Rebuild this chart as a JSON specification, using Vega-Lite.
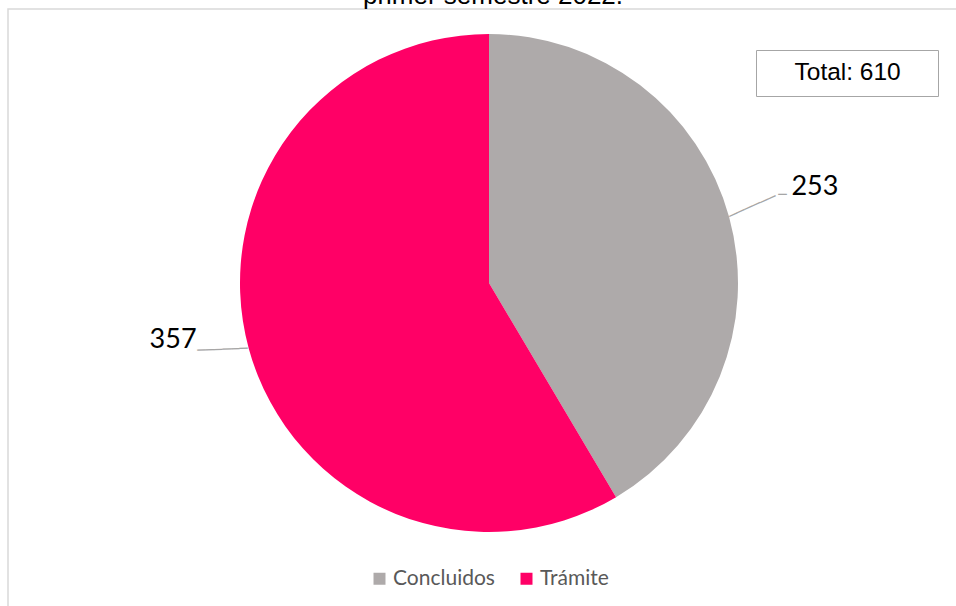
{
  "$schema": "https://vega.github.io/schema/vega-lite/v6.json",
  "autosize": {"type": "none"},
  "width": 948,
  "height": 597,
  "padding": {"left": 8, "top": 9, "right": 0, "bottom": 0},
  "background": "white",
  "view": {"stroke": "#D9D9D9", "strokeWidth": 1.5, "fill": "white", "strokeDash": [948, 1545, 597]},
  "title": {
    "text": "primer semestre 2022.",
    "font": "Liberation Sans",
    "fontSize": 26,
    "fontWeight": "normal",
    "color": "#000000",
    "anchor": "middle",
    "baseline": "top",
    "offset": 0,
    "dx": 11,
    "frame": "group"
  },
  "data": {
    "values": [
      {"category": "Concluidos", "value": 253},
      {"category": "Trámite", "value": 357}
    ]
  },
  "layer": [
    {
      "mark": {"type": "arc", "outerRadius": 249, "xOffset": 7, "yOffset": -24.5},
      "encoding": {
        "theta": {"field": "value", "type": "quantitative", "stack": true},
        "color": {
          "field": "category",
          "type": "nominal",
          "scale": {"domain": ["Concluidos", "Trámite"], "range": ["#AEAAAA", "#FF0066"]},
          "legend": {
            "title": null,
            "orient": "none",
            "legendX": 361,
            "legendY": 559,
            "direction": "horizontal",
            "padding": 0,
            "symbolType": "square",
            "symbolSize": 144,
            "symbolStrokeWidth": 0,
            "labelFont": "Lato",
            "labelFontSize": 21,
            "labelColor": "#595959",
            "labelOffset": 3,
            "columnPadding": 21
          }
        }
      }
    },
    {
      "mark": {"type": "text", "align": "center", "baseline": "middle", "angle": -24, "dx": -1, "dy": -4, "font": "DejaVu Sans", "fontSize": 14, "color": "#A6A6A6", "xOffset": 7, "yOffset": -24.5},
      "encoding": {
        "theta": {"field": "value", "type": "quantitative", "stack": true},
        "detail": {"field": "category", "type": "nominal"},
        "radius": {"value": 276},
        "text": {"value": "──────"},
        "opacity": {"condition": {"test": "datum.category === 'Concluidos'", "value": 1}, "value": 0}
      }
    },
    {
      "mark": {"type": "text", "align": "center", "baseline": "middle", "angle": 0, "dx": 7, "dy": -9, "font": "DejaVu Sans", "fontSize": 14, "color": "#A6A6A6", "xOffset": 7, "yOffset": -24.5},
      "encoding": {
        "theta": {"field": "value", "type": "quantitative", "stack": true},
        "detail": {"field": "category", "type": "nominal"},
        "radius": {"value": 297},
        "text": {"value": "─"},
        "opacity": {"condition": {"test": "datum.category === 'Concluidos'", "value": 1}, "value": 0}
      }
    },
    {
      "mark": {"type": "text", "align": "center", "baseline": "middle", "angle": -2.4, "dy": -6, "font": "DejaVu Sans", "fontSize": 14, "color": "#A6A6A6", "xOffset": 7, "yOffset": -24.5},
      "encoding": {
        "theta": {"field": "value", "type": "quantitative", "stack": true},
        "detail": {"field": "category", "type": "nominal"},
        "radius": {"value": 276},
        "text": {"value": "──────"},
        "opacity": {"condition": {"test": "datum.category === 'Trámite'", "value": 1}, "value": 0}
      }
    },
    {
      "mark": {"type": "text", "align": "left", "baseline": "middle", "dx": 16, "dy": -17, "font": "Lato", "fontSize": 27, "color": "#000000", "xOffset": 7, "yOffset": -24.5},
      "encoding": {
        "theta": {"field": "value", "type": "quantitative", "stack": true},
        "detail": {"field": "category", "type": "nominal"},
        "radius": {"value": 297},
        "text": {"field": "value", "type": "quantitative"},
        "opacity": {"condition": {"test": "datum.category === 'Concluidos'", "value": 1}, "value": 0}
      }
    },
    {
      "mark": {"type": "text", "align": "right", "baseline": "middle", "dx": -6, "dy": -22, "font": "Lato", "fontSize": 27, "color": "#000000", "xOffset": 7, "yOffset": -24.5},
      "encoding": {
        "theta": {"field": "value", "type": "quantitative", "stack": true},
        "detail": {"field": "category", "type": "nominal"},
        "radius": {"value": 297},
        "text": {"field": "value", "type": "quantitative"},
        "opacity": {"condition": {"test": "datum.category === 'Trámite'", "value": 1}, "value": 0}
      }
    },
    {
      "mark": {"type": "point", "opacity": 0},
      "encoding": {
        "shape": {
          "datum": "Total: 610",
          "type": "nominal",
          "legend": {
            "title": null,
            "orient": "none",
            "legendX": 748,
            "legendY": 41,
            "padding": 10.75,
            "strokeColor": "#A6A6A6",
            "fillColor": "white",
            "symbolSize": 0,
            "symbolOpacity": 0,
            "labelOffset": 3.25,
            "labelLimit": 400,
            "labelFont": "Liberation Sans",
            "labelFontSize": 24.5,
            "labelColor": "#000000",
            "labelExpr": "datum.label + '\u2004\u2800'",
            "encode": {"legend": {"update": {"strokeWidth": {"value": 2}}}}
          }
        }
      }
    }
  ]
}
